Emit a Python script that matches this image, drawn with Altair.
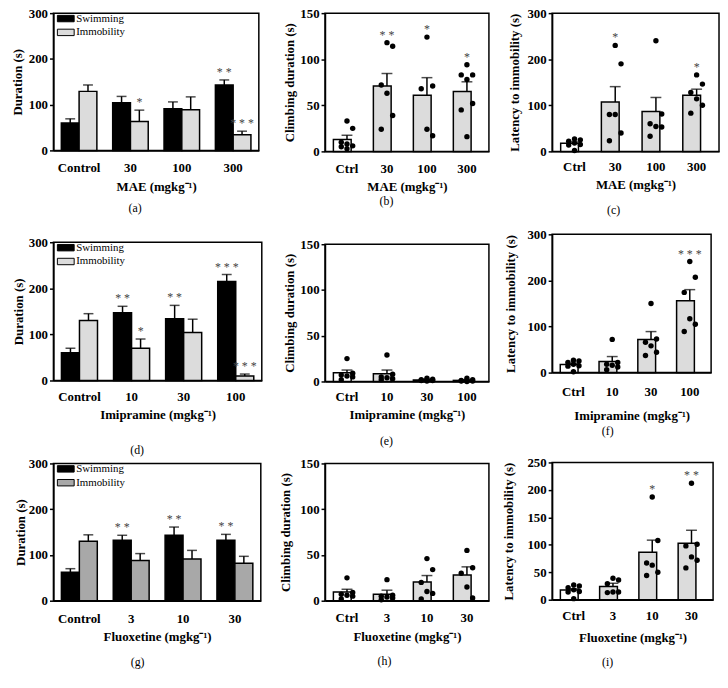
import altair as alt
import pandas as pd

FONT = "Liberation Serif"
LIGHT = "#dcdcdc"
MID = "#a8a8a8"
STAR = "#444444"
SERIES = ["Swimming", "Immobility"]

# ---------------- (a) MAE: swimming / immobility ----------------
A_GROUPS = ["Control", "30", "100", "300"]
A_SWIM = [60, 104, 91, 143]
A_SWIM_SEM = [9, 14, 15, 11]
A_IMM = [129, 63, 89, 34]
A_IMM_SEM = [14, 25, 28, 8]
A_SWIM_STARS = ["", "", "", "* *"]
A_IMM_STARS = ["", "*", "", "* * *"]

# ---------------- (d) Imipramine: swimming / immobility ----------------
D_GROUPS = ["Control", "10", "30", "100"]
D_SWIM = [60, 147, 134, 215]
D_SWIM_SEM = [10, 14, 29, 15]
D_IMM = [130, 70, 104, 10]
D_IMM_SEM = [15, 20, 29, 4]
D_SWIM_STARS = ["", "* *", "* *", "* * *"]
D_IMM_STARS = ["", "*", "", "* * *"]

# ---------------- (g) Fluoxetine: swimming / immobility ----------------
G_GROUPS = ["Control", "3", "10", "30"]
G_SWIM = [62, 132, 143, 132]
G_SWIM_SEM = [8, 11, 18, 13]
G_IMM = [130, 88, 91, 82]
G_IMM_SEM = [14, 15, 19, 15]
G_SWIM_STARS = ["", "* *", "* *", "* *"]
G_IMM_STARS = ["", "", "", ""]

# ---------------- (b) MAE climbing ----------------
B_GROUPS = ["Ctrl", "30", "100", "300"]
B_MEAN = [13, 71, 61, 65]
B_SEM = [4.5, 13.5, 19, 10.5]
B_DOTS = [[33, 25, 10, 8, 6, 5, 3], [118, 114, 72, 63, 39, 24],
          [124, 71, 68, 24, 17], [94, 83, 83, 78, 52, 45, 16]]
B_STARS = ["", "* *", "*", "*"]

# ---------------- (c) MAE latency ----------------
C_GROUPS = ["Ctrl", "30", "100", "300"]
C_MEAN = [17.5, 107, 86.5, 122]
C_SEM = [3, 33.5, 30.5, 13]
C_DOTS = [[27, 25, 22, 18, 15, 14, 2], [230, 190, 80, 80, 40, 23],
          [240, 81, 60, 54, 53, 33], [166, 146, 128, 114, 100, 83]]
C_STARS = ["", "*", "", "*"]

# ---------------- (e) Imipramine climbing ----------------
E_GROUPS = ["Ctrl", "10", "30", "100"]
E_MEAN = [9.5, 8.5, 1.7, 1.2]
E_SEM = [3, 4, 0.7, 0.6]
E_DOTS = [[25, 9, 7, 6, 5, 2], [29, 8, 5, 4, 3, 2],
          [3.5, 2.5, 2, 1.5, 1, 1, 0.5], [3.5, 2, 1, 1, 0.5, 0.5, 0]]
E_STARS = ["", "", "", ""]

# ---------------- (f) Imipramine latency ----------------
F_GROUPS = ["Ctrl", "10", "30", "100"]
F_MEAN = [17.5, 24.3, 72, 156]
F_SEM = [2.5, 10.5, 17, 24]
F_DOTS = [[27, 25, 22, 18, 15, 14, 2], [72, 22, 18, 16, 12, 6],
          [150, 73, 66, 58, 44, 37], [241, 207, 174, 117, 105, 89]]
F_STARS = ["", "", "", "* * *"]

# ---------------- (h) Fluoxetine climbing ----------------
H_GROUPS = ["Ctrl", "3", "10", "30"]
H_MEAN = [9.5, 7, 20.5, 28]
H_SEM = [3, 4.5, 7, 9]
H_DOTS = [[25, 9, 7, 6, 5, 2], [23, 6, 5, 4, 3, 1],
          [46, 34, 20, 10, 8, 2], [55, 36, 30, 15, 3]]
H_STARS = ["", "", "", ""]

# ---------------- (i) Fluoxetine latency ----------------
I_GROUPS = ["Ctrl", "3", "10", "30"]
I_MEAN = [17.5, 24, 86.5, 103]
I_SEM = [2.5, 6, 22, 23.5]
I_DOTS = [[27, 25, 22, 18, 15, 14, 2], [39, 36, 29, 14, 14, 13],
          [187, 108, 67, 63, 50, 44], [212, 101, 98, 78, 72, 58]]
I_STARS = ["", "", "*", "* *"]


def x_axis(title, lab_pad, title_pad):
    return alt.Axis(title=title, labelAngle=0, ticks=False, tickSize=0,
                    labelPadding=lab_pad, titlePadding=title_pad)


def y_axis(title, values, title_pad):
    return alt.Axis(title=title, values=values, titlePadding=title_pad)


def caption(text, offset):
    return alt.TitleParams(text=text, orient="bottom", anchor="middle",
                           frame="bounds", offset=offset, font=FONT,
                           fontSize=12, fontWeight="normal", color="black")


def offsets(lp, xt, cb):
    xtp = xt - 6 - (lp + 13) - 1.3
    off = cb - xt - 13 + 2.3
    return lp + 3, xtp, off


def grouped_panel(groups, swim, swim_sem, imm, imm_sem, swim_st, imm_st,
                  imm_color, xtitle, cap, width, height, ytp, lp, xt, cb):
    rows = []
    for i, g in enumerate(groups):
        rows.append({"dose": g, "series": "Swimming", "mean": swim[i],
                     "top": swim[i] + swim_sem[i], "star": swim_st[i]})
        rows.append({"dose": g, "series": "Immobility", "mean": imm[i],
                     "top": imm[i] + imm_sem[i], "star": imm_st[i]})
    df = pd.DataFrame(rows)
    lpad, xtp, off = offsets(lp, xt, cb)
    x = alt.X("dose:N", sort=groups,
              scale=alt.Scale(paddingInner=0.3077, paddingOuter=0.1538),
              axis=x_axis(xtitle, lpad, xtp))
    xo = alt.XOffset("series:N", sort=SERIES,
                     scale=alt.Scale(paddingInner=0, paddingOuter=0))
    ysc = alt.Scale(domain=[0, 300], nice=False)
    yax = y_axis("Duration (s)", [0, 100, 200, 300], ytp)
    base = alt.Chart(df)
    legend = alt.Legend(title=None, orient="none", legendX=7, legendY=0,
                        padding=0, direction="vertical",
                        symbolType="M-1.7,-0.65H1.7V0.65H-1.7Z",
                        symbolSize=100, symbolStrokeColor="black",
                        symbolStrokeWidth=1, symbolOpacity=1,
                        labelFont=FONT, labelFontSize=11,
                        labelFontWeight="normal", labelColor="black",
                        labelOffset=5, rowPadding=2)
    bars = base.mark_bar(stroke="black", strokeWidth=1.5).encode(
        x=x, xOffset=xo,
        y=alt.Y("mean:Q", scale=ysc, axis=yax),
        color=alt.Color("series:N", sort=SERIES,
                        scale=alt.Scale(domain=SERIES,
                                        range=["black", imm_color]),
                        legend=legend))
    err = base.mark_rule(color="black", strokeWidth=1.5).encode(
        x=x, xOffset=xo, y=alt.Y("mean:Q", scale=ysc, axis=yax),
        y2="top:Q")
    caps = base.mark_tick(color="black", thickness=1.5, size=10).encode(
        x=x, xOffset=xo, y=alt.Y("top:Q", scale=ysc, axis=yax))
    stars = base.mark_text(font=FONT, fontSize=12, color=STAR,
                           baseline="alphabetic", dy=-4).encode(
        x=x, xOffset=xo, y=alt.Y("top:Q", scale=ysc, axis=yax),
        text="star:N")
    return alt.layer(bars, err, caps, stars).properties(
        width=width, height=height, title=caption(cap, off))


def dots_panel(groups, means, sems, dots, stars, ytitle, ymax, ystep,
               xtitle, cap, width, height, ytp, lp, xt, cb):
    bdf = pd.DataFrame({"dose": groups, "mean": means,
                        "top": [m + s for m, s in zip(means, sems)],
                        "star": stars})
    bdf["star_y"] = [max(t, max(d)) for t, d in zip(bdf["top"], dots)]
    ddf = pd.DataFrame([{"dose": g, "value": v}
                        for g, vals in zip(groups, dots) for v in vals])
    lpad, xtp, off = offsets(lp, xt, cb)
    x = alt.X("dose:N", sort=groups,
              scale=alt.Scale(paddingInner=0.32, paddingOuter=0.21),
              axis=x_axis(xtitle, lpad, xtp))
    ysc = alt.Scale(domain=[0, ymax], nice=False)
    yax = y_axis(ytitle, list(range(0, ymax + 1, ystep)), ytp)
    bars = alt.Chart(bdf).mark_bar(stroke="black", strokeWidth=1.5).encode(
        x=x, y=alt.Y("mean:Q", scale=ysc, axis=yax),
        color=alt.condition(alt.datum.dose == groups[0],
                            alt.value("white"), alt.value(LIGHT)))
    err = alt.Chart(bdf).mark_rule(color="black", strokeWidth=1.5).encode(
        x=x, y=alt.Y("mean:Q", scale=ysc, axis=yax), y2="top:Q")
    caps = alt.Chart(bdf).mark_tick(color="black", thickness=1.5,
                                    size=11).encode(
        x=x, y=alt.Y("top:Q", scale=ysc, axis=yax))
    pts = alt.Chart(ddf).transform_window(
        idx="row_number()", groupby=["dose"]
    ).transform_calculate(
        jit="(datum.idx % 3 - 1) * 0.42"
    ).mark_circle(size=30, color="black", opacity=1).encode(
        x=x,
        xOffset=alt.XOffset("jit:Q", scale=alt.Scale(domain=[-1, 1])),
        y=alt.Y("value:Q", scale=ysc, axis=yax))
    st = alt.Chart(bdf).mark_text(font=FONT, fontSize=12, color=STAR,
                                  baseline="alphabetic", dy=-4).encode(
        x=x, y=alt.Y("star_y:Q", scale=ysc, axis=yax), text="star:N")
    return alt.layer(bars, err, caps, pts, st).properties(
        width=width, height=height, title=caption(cap, off))


MAE_T = "MAE (mgkg\u207b\u00b9)"
IMI_T = "Imipramine (mgkg\u207b\u00b9)"
FLU_T = "Fluoxetine (mgkg\u207b\u00b9)"
CLIMB_T = "Climbing duration (s)"
LAT_T = "Latency to immobility (s)"

pa = grouped_panel(A_GROUPS, A_SWIM, A_SWIM_SEM, A_IMM, A_IMM_SEM,
                   A_SWIM_STARS, A_IMM_STARS, LIGHT, MAE_T, "(a)",
                   208, 139, 4, 8, 34.7, 55)
pdd = grouped_panel(D_GROUPS, D_SWIM, D_SWIM_SEM, D_IMM, D_IMM_SEM,
                    D_SWIM_STARS, D_IMM_STARS, LIGHT, IMI_T, "(d)",
                    211, 140, 3, 7, 33, 67)
pg = grouped_panel(G_GROUPS, G_SWIM, G_SWIM_SEM, G_IMM, G_IMM_SEM,
                   G_SWIM_STARS, G_IMM_STARS, MID, FLU_T, "(g)",
                   210, 139, 1, 9, 34.7, 59)

pb = dots_panel(B_GROUPS, B_MEAN, B_SEM, B_DOTS, B_STARS, CLIMB_T, 150, 50,
                MAE_T, "(b)", 166, 140, 3, 8.5, 33.7, 47)
pe = dots_panel(E_GROUPS, E_MEAN, E_SEM, E_DOTS, E_STARS, CLIMB_T, 150, 50,
                IMI_T, "(e)", 166, 139, 3, 6, 32, 57)
ph = dots_panel(H_GROUPS, H_MEAN, H_SEM, H_DOTS, H_STARS, CLIMB_T, 150, 50,
                FLU_T, "(h)", 166, 139, 7, 8, 34.7, 58)

pc = dots_panel(C_GROUPS, C_MEAN, C_SEM, C_DOTS, C_STARS, LAT_T, 300, 100,
                MAE_T, "(c)", 169, 140, 6, 6, 32, 56.3)
pf = dots_panel(F_GROUPS, F_MEAN, F_SEM, F_DOTS, F_STARS, LAT_T, 300, 100,
                IMI_T, "(f)", 161, 140, 10, 10, 41.8, 56)
pi = dots_panel(I_GROUPS, I_MEAN, I_SEM, I_DOTS, I_STARS, LAT_T, 250, 50,
                FLU_T, "(i)", 163, 139, 12, 7, 36.3, 59.7)


def indep(c):
    return c.resolve_scale(color="independent", xOffset="independent"
                           ).resolve_legend(color="independent")


def vc(top, bottom, s):
    return indep(alt.vconcat(top, bottom, spacing=s))


def hc(left, right, s):
    return indep(alt.hconcat(left, right, spacing=s))


col1 = vc(vc(pa, pdd, 21), pg, 0)
col2 = vc(vc(pb, pe, 30), ph, 9)
col3 = vc(vc(pc, pf, 10), pi, 18)

chart = hc(hc(col1, col2, 16), col3, 11).properties(
    padding={"left": 2, "top": -6, "right": 0, "bottom": 0},
    background="white"
).configure_axis(
    labelFont=FONT, labelFontSize=13, labelFontWeight="bold",
    labelColor="black", titleFont=FONT, titleFontSize=13,
    titleFontWeight="bold", titleColor="black", domainColor="black",
    domainWidth=1.5, tickColor="black", tickWidth=1.5, grid=False
).configure_axisY(
    tickSize=4, labelPadding=2
).configure_view(
    stroke="black", strokeWidth=1.5
)

chart.save("out.html", embed_options={"renderer": "svg", "actions": False})
